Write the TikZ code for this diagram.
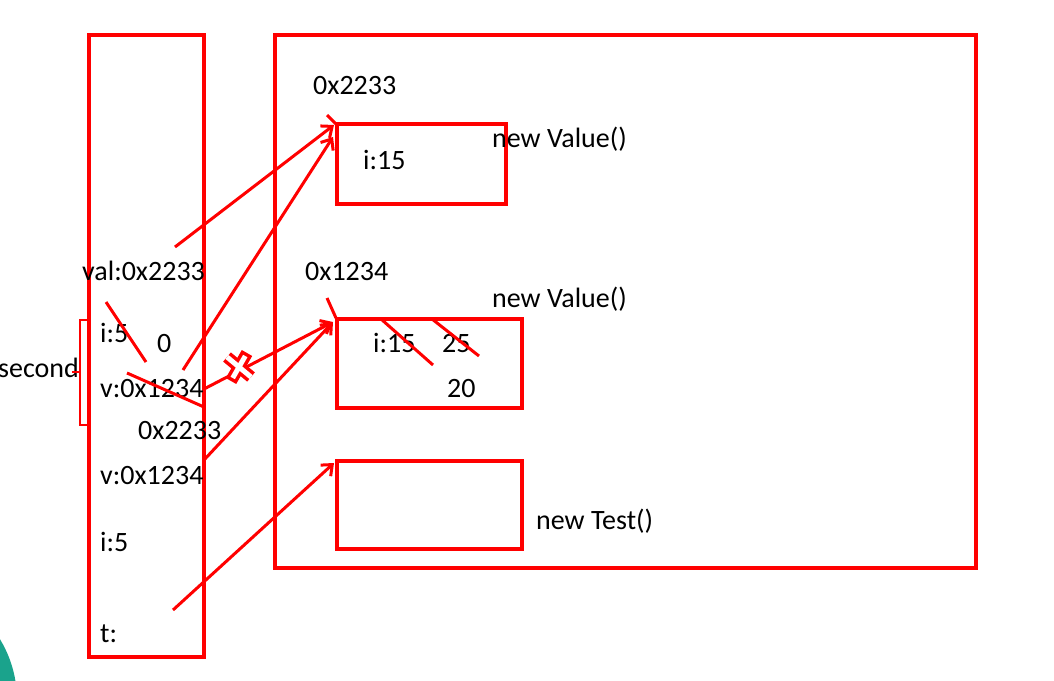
\documentclass[tikz,border=0pt]{standalone}
\usepackage{fontspec}
\setmainfont{Carlito}
\usetikzlibrary{arrows.meta,positioning,calc}
\definecolor{slideteal}{RGB}{26,163,140}

\begin{document}
\begin{tikzpicture}[x=1pt,y=-1pt,>={Straight Barb[length=9pt,width=15pt]},
                    font=\fontsize{28}{34}\selectfont,
                    frame/.style={draw=red,line width=4pt},
                    obj/.style={frame,anchor=north west,inner sep=0pt,outer sep=0pt},
                    lbl/.style={anchor=base west,inner sep=0pt},
                    ref/.style={->,draw=red,line width=3pt},
                    strike/.style={draw=red,line width=3pt},
                    cutmark/.style={line width=12pt,draw=red}]
  \useasboundingbox (0,0) rectangle (1054,680);
  \fill[slideteal] (-100,700) circle (117pt);

  % stack frame and heap
  \node[obj,minimum width=115pt,minimum height=622pt] (stack) at (89,35) {};
  \node[obj,minimum width=701pt,minimum height=533pt] (heap)  at (275,35) {};

  \node[obj,minimum width=169pt,minimum height=80pt] (obj1) at (337,124) {};
  \node[obj,minimum width=185pt,minimum height=89pt] (obj2) at (337,319) {};
  \node[obj,minimum width=185pt,minimum height=88pt] (obj3) at (337,461) {};

  \path (313, 94) node[lbl] (addr1) {0x2233}
        (492,147) node[lbl] (cls1)  {new Value()}
        (363,169) node[lbl] (fld1)  {i:15}
        (305,280) node[lbl] (addr2) {0x1234}
        (492,307) node[lbl] (cls2)  {new Value()}
        (373,352) node[lbl] (fld2)  {i:15}
        (442,352) node[lbl] (old2)  {25}
        (447,397) node[lbl] (new2)  {20}
        (536,529) node[lbl] (cls3)  {new Test()};

  \path ( 82,280) node[lbl] (val)   {val:0x2233}
        (100,342) node[lbl] (i1)    {i:5}
        (157,352) node[lbl] (zero)  {0}
        (100,397) node[lbl] (v1)    {v:0x1234}
        (138,439) node[lbl] (addr3) {0x2233}
        (100,484) node[lbl] (v2)    {v:0x1234}
        (100,551) node[lbl] (i2)    {i:5}
        (100,642) node[lbl] (t)     {t:};

  \node[lbl] (second) at (-2,377) {second};
  \draw[red,line width=2pt] (88,320) -| (80,425) -- (88,425)
                            (80,372) -- (72,372);

  % references
  \coordinate (valout) at (175,247);
  \coordinate (v1out)  at (183,370);
  \coordinate (v1edge) at (204,389);
  \coordinate (v2edge) at (204,460);
  \coordinate (tout)   at (173,610);

  \path (valout) edge[ref] ($(obj1.north west)+(-3,1)$)
        (v1out)  edge[ref] ($(obj1.north west)+(-4,13)$)
        (v1edge) edge[ref] ($(obj2.north west)+(-4,3)$)
        (v2edge) edge[ref] ($(obj2.north west)+(-4,3)$)
        (tout)   edge[ref] ($(obj3.north west)+(-3,2)$);

  % crossed out values
  \draw[strike] (106,302) -- (146,362)
                (127,373) -- (204,407)
                (381,319) -- (433,365)
                (432,319) -- (479,356)
                (327,115) -- (336,124)
                (327,298) -- (336,318);

  \coordinate (cut) at (239,367);
  \draw[cutmark] ($(cut)+(-12,-10)$) -- ($(cut)+(12,10)$)
                 ($(cut)+(8,-14)$) -- ($(cut)+(-8,14)$);
  \draw[cutmark,draw=white,line width=5pt,shorten <=3.5pt,shorten >=3.5pt]
                 ($(cut)+(-12,-10)$) -- ($(cut)+(12,10)$)
                 ($(cut)+(8,-14)$) -- ($(cut)+(-8,14)$);
\end{tikzpicture}
\end{document}
